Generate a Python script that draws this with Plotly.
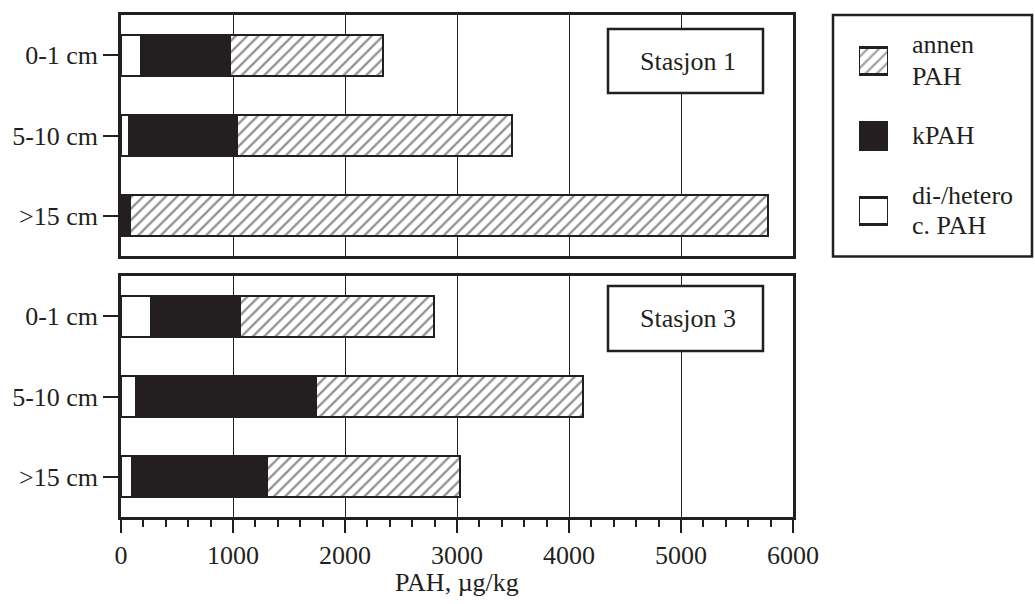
import plotly.graph_objects as go

depths = ["0-1 cm", "5-10 cm", ">15 cm"]
# Stasjon 1 segment values (µg/kg)
s1_dihetero = [175, 74, 10]
s1_kpah = [798, 964, 70]
s1_annen = [1363, 2450, 5700]
# Stasjon 3 segment values (µg/kg)
s3_dihetero = [268, 134, 95]
s3_kpah = [795, 1607, 1206]
s3_annen = [1734, 2381, 1726]

legend_lines = [["annen", "PAH"], ["kPAH"], ["di-/hetero", "c. PAH"]]
station_labels = ["Stasjon 1", "Stasjon 3"]
x_ticks = [0, 1000, 2000, 3000, 4000, 5000, 6000]
x_title = "PAH, µg/kg"

W, H = 1035, 604
ML, MR, MT, MB = 121, 2, 15, 87
PW = W - ML - MR
PH = H - MT - MB


def px_x(p):
    return (p - ML) / PW


def px_y(p):
    return (H - MB - p) / PH


FONT = "Liberation Serif"
INK = "#231f20"
FS = 26

fig = go.Figure()

hatch = dict(shape="/", fgcolor=INK, bgcolor="white", size=8, solidity=0.28)
line = dict(color=INK, width=2.2)
BW = 0.51

for (dh, kp, an), xa, ya in [((s1_dihetero, s1_kpah, s1_annen), "x", "y"),
                              ((s3_dihetero, s3_kpah, s3_annen), "x2", "y2")]:
    fig.add_trace(go.Bar(y=depths, x=dh, orientation="h", width=BW,
                         marker=dict(color="white", line=line),
                         xaxis=xa, yaxis=ya, showlegend=False))
    fig.add_trace(go.Bar(y=depths, x=kp, orientation="h", width=BW,
                         marker=dict(color=INK, line=line),
                         xaxis=xa, yaxis=ya, showlegend=False))
    fig.add_trace(go.Bar(y=depths, x=an, orientation="h", width=BW,
                         marker=dict(color="white", pattern=hatch, line=line),
                         xaxis=xa, yaxis=ya, showlegend=False))

# legend swatches on their own small axis
fig.add_trace(go.Bar(y=[0, 1, 2], x=[1, 1, 1], orientation="h", width=0.37,
                     marker=dict(color=["white", INK, "white"],
                                 pattern=dict(shape=["/", "", ""], fgcolor=INK,
                                              bgcolor="white", size=8, solidity=0.28),
                                 line=line),
                     xaxis="x3", yaxis="y3", showlegend=False, hoverinfo="skip"))

xdom = [0, px_x(793)]
top_dom = [px_y(256), 1]
bot_dom = [0, px_y(276)]

common_x = dict(range=[0, 6000], showgrid=True, gridcolor=INK, gridwidth=1,
                tickvals=x_ticks, showline=True, linecolor=INK, linewidth=2.5,
                mirror=True, zeroline=False, domain=xdom, automargin=False,
                tickfont=dict(family=FONT, size=FS, color=INK))
common_y = dict(range=[2.5, -0.5], type="category", showline=True, linecolor=INK,
                linewidth=2.5, mirror=True, ticks="outside", ticklen=15,
                tickwidth=1.5, tickcolor=INK, showgrid=False, automargin=False,
                tickfont=dict(family=FONT, size=FS, color=INK))

fig.update_layout(
    width=W, height=H,
    margin=dict(l=ML, r=MR, t=MT, b=MB),
    paper_bgcolor="white", plot_bgcolor="white",
    barmode="stack", bargap=0,
    xaxis=dict(common_x, anchor="y", showticklabels=False, ticks=""),
    yaxis=dict(common_y, domain=top_dom, anchor="x"),
    xaxis2=dict(common_x, anchor="y2", ticks="outside", ticklen=13, tickwidth=1.5,
                tickcolor=INK,
                minor=dict(dtick=200, ticks="outside", ticklen=7, tickwidth=1.5,
                           tickcolor=INK, showgrid=False)),
    yaxis2=dict(common_y, domain=bot_dom, anchor="x2"),
    xaxis3=dict(domain=[px_x(859), px_x(888)], range=[0, 1], visible=False,
                anchor="y3", fixedrange=True),
    yaxis3=dict(domain=[px_y(248.5), px_y(23.5)], range=[2.5, -0.5], visible=False,
                anchor="x3", fixedrange=True),
    showlegend=False,
)

shapes = []
annotations = []
# station boxes
for lbl, xr, yr, (y0, y1) in [(station_labels[0], "x domain", "y domain", (0.676, 0.942)),
                              (station_labels[1], "x2 domain", "y2 domain", (0.689, 0.9585))]:
    x0, x1 = (608 - 121) / 672, (763 - 121) / 672
    shapes.append(dict(type="rect", xref=xr, yref=yr, x0=x0, x1=x1, y0=y0, y1=y1,
                       line=dict(color=INK, width=2.5), fillcolor="white", layer="above"))
    annotations.append(dict(text=lbl, xref=xr, yref=yr, x=(x0 + x1) / 2 + 0.004,
                            y=(y0 + y1) / 2, xanchor="center", yanchor="middle",
                            showarrow=False, font=dict(family=FONT, size=FS, color=INK)))

# legend box
shapes.append(dict(type="rect", xref="paper", yref="paper", x0=px_x(833), x1=px_x(1032),
                   y0=px_y(256.5), y1=px_y(15), line=dict(color=INK, width=2.5)))
legend_centers = [[45, 76], [135], [195, 226]]
for lines, ycs in zip(legend_lines, legend_centers):
    for txt, yc in zip(lines, ycs):
        annotations.append(dict(text=txt, xref="paper", yref="paper", x=px_x(910),
                                y=px_y(yc), xanchor="left", yanchor="middle",
                                showarrow=False,
                                font=dict(family=FONT, size=FS, color=INK)))

# x-axis title
annotations.append(dict(text=x_title, xref="x2 domain", yref="paper", x=0.5, y=px_y(583),
                        xanchor="center", yanchor="middle", showarrow=False,
                        font=dict(family=FONT, size=FS, color=INK)))

fig.update_layout(shapes=shapes, annotations=annotations)

fig.write_html("out.html", config={"displayModeBar": False},
               post_script="document.body.style.margin='0';"
                           "document.body.style.overflow='hidden';")
